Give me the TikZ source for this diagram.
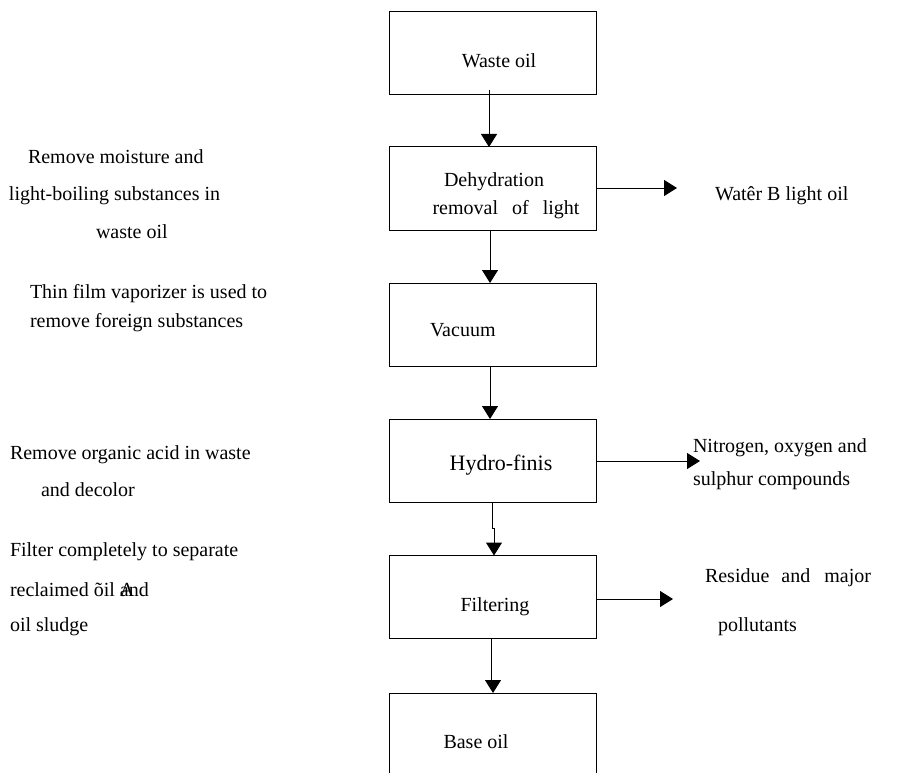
\documentclass[tikz,border=0pt]{standalone}
\usepackage{fontspec}
\setmainfont{Liberation Serif}
\usetikzlibrary{arrows.meta}
\begin{document}
\begin{tikzpicture}[x=1pt,y=-1pt,
  every node/.style={inner sep=0pt, outer sep=0pt},
  procbox/.style={draw, line width=1pt, minimum width=207pt, minimum height=83pt},
  txt/.style={font=\fontsize{20}{24}\selectfont},
  note/.style={txt, anchor=west},
  flow/.style={line width=1pt, -{Triangle[width=16pt,length=13pt]}},
  plain/.style={line width=1pt}]
\clip (0,0) rectangle (897,773);
\fill[white] (0,0) rectangle (897,773);

% process boxes
\node[procbox] (waste) at (492.5,53) {};
\node[procbox] (dehy)  at (492.5,188.5) {};
\node[procbox] (vac)   at (492.5,324.5) {};
\node[procbox] (hydro) at (492.5,460.5) {};
\node[procbox] (filt)  at (492.5,597) {};
\node[procbox] (base)  at (492.5,734.5) {};

% box captions
\node[txt] (wastet) at (499,61) {Waste oil};
\node[txt] (dehyt1) at (494,182) {Dehydration};
\node[txt] (dehyt2) at (506,210) {removal\hspace{14pt}of\hspace{14pt}light};
\node[note] (vact) at (430,330) {Vacuum};
\node[txt, font=\fontsize{22}{26}\selectfont] (hydrot) at (501,465) {Hydro-finis};
\node[txt] (filtt) at (495,607) {Filtering};
\node[txt] (baset) at (476,742) {Base oil};

% main flow
\draw[flow] (489,90) -- (489,147);
\draw[flow] (dehy.south -| 490,0) -- (vac.north -| 490,0);
\draw[flow] (vac.south -| 490,0) -- (hydro.north -| 490,0);
\draw[flow] (hydro.south -| 492,0) -- (492,528) -- (494,528) -- (filt.north -| 494,0);
\draw[flow] (filt.south -| 491,0) -- (491,680) -- (493,680) -- (base.north -| 493,0);

% side products
\coordinate (w1) at (677,188);
\coordinate (w2) at (700,461);
\coordinate (w3) at (673,599);
\draw[flow] (dehy.east |- w1) -- (w1);
\draw[flow] (hydro.east |- w2) -- (w2);
\draw[flow] (filt.east |- w3) -- (w3);

\node[note] (out1) at (715,196) {Wat\^{e}r B light oil};
\node[note] (out2a) at (693,448) {Nitrogen, oxygen and};
\node[note] (out2b) at (693,481) {sulphur compounds};
\node[note] (out3a) at (705,578) {Residue\hspace{12pt}and\hspace{14pt}major};
\node[note] (out3b) at (718,627) {pollutants};

% step descriptions
\node[note] (d1a) at (28,157) {Remove moisture and};
\node[note] (d1b) at (9,196) {light-boiling substances in};
\node[note] (d1c) at (96,232) {waste oil};
\node[note] (d2a) at (30,294) {Thin film vaporizer is used to};
\node[note] (d2b) at (30,323) {remove foreign substances};
\node[note] (d3a) at (10,455) {Remove organic acid in waste};
\node[note] (d3b) at (41,490) {and decolor};
\node[note] (d4a) at (10,552) {Filter completely to separate};
\node[note] (d4b) at (10,590) {reclaimed \~{o}il \makebox[0pt][l]{A}and};
\node[note] (d4c) at (10,627) {oil sludge};
\end{tikzpicture}
\end{document}
